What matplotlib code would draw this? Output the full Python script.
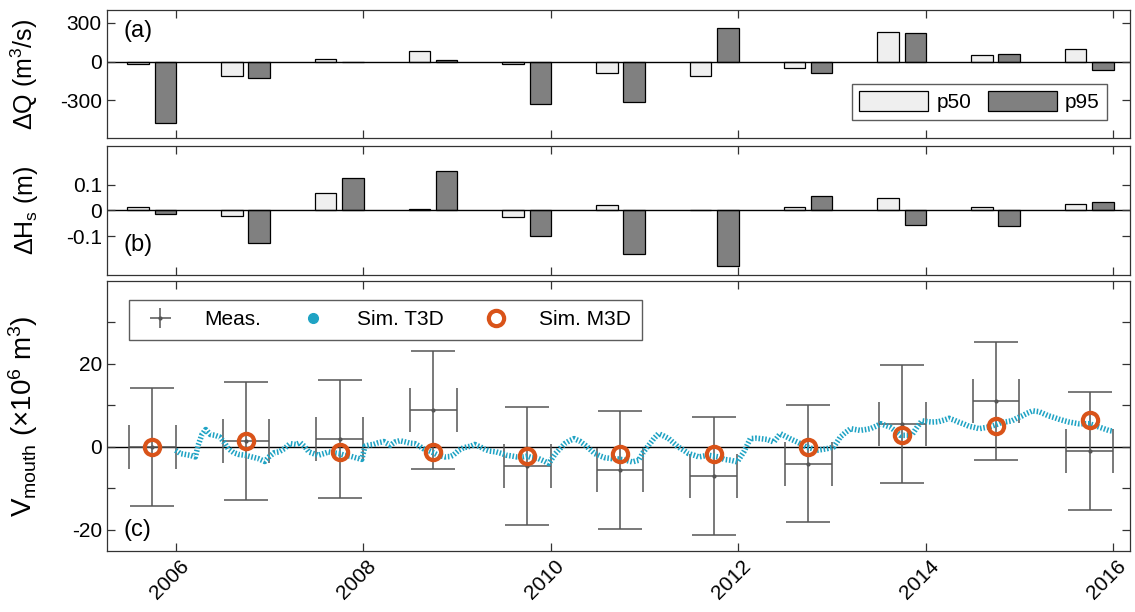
import matplotlib.pyplot as plt
import matplotlib.transforms as mtransforms
from matplotlib.lines import Line2D

plt.rcParams['font.family'] = ['Liberation Sans', 'DejaVu Sans']
plt.rcParams['mathtext.fontset'] = 'custom'
plt.rcParams['mathtext.rm'] = 'Liberation Sans'
plt.rcParams['mathtext.it'] = 'Liberation Sans:italic'
plt.rcParams['axes.unicode_minus'] = False

""" data read off the figure """

years = [2005, 2006, 2007, 2008, 2009, 2010, 2011, 2012, 2013, 2014, 2015]

dq_p50 = [-18, -111, 21, 80, -18, -93, -111, -47, 230, 52, 101]
dq_p95 = [-479, -132, -5, 10, -328, -313, 261, -91, 220, 62, -65]

dhs_p50 = [0.015, -0.022, 0.067, 0.006, -0.025, 0.019, 0.0, 0.013, 0.048, 0.015, 0.025]
dhs_p95 = [-0.015, -0.128, 0.125, 0.151, -0.099, -0.170, -0.214, 0.055, -0.057, -0.059, 0.032]

meas_t = [2005.75, 2006.75, 2007.75, 2008.75, 2009.75, 2010.74, 2011.74, 2012.75, 2013.75, 2014.75, 2015.75]
meas_v = [0.0, 1.5, 2.0, 9.0, -4.5, -5.5, -7.0, -4.0, 5.6, 11.1, -1.0]
meas_err = 14.2
meas_terr = 0.25
m3d_v = [0.0, 1.4, -1.2, -1.2, -2.1, -1.7, -1.6, 0.1, 2.8, 5.1, 6.6]

t3d_t = [2006.00, 2006.05, 2006.10, 2006.15, 2006.21, 2006.24, 2006.28, 2006.32, 2006.37, 2006.42,
         2006.47, 2006.52, 2006.56, 2006.62, 2006.67, 2006.74, 2006.81, 2006.88, 2006.95, 2007.00,
         2007.05, 2007.10, 2007.16, 2007.22, 2007.28, 2007.33, 2007.38, 2007.42, 2007.47, 2007.52,
         2007.58, 2007.63, 2007.68, 2007.74, 2007.80, 2007.86, 2007.92, 2007.985, 2008.02, 2008.07,
         2008.11, 2008.16, 2008.22, 2008.29, 2008.34, 2008.39, 2008.45, 2008.50, 2008.55, 2008.60,
         2008.64, 2008.69, 2008.73, 2008.80, 2008.87, 2008.93, 2008.96, 2009.02, 2009.07, 2009.11,
         2009.15, 2009.19, 2009.25, 2009.30, 2009.35, 2009.42, 2009.48, 2009.53, 2009.59, 2009.64,
         2009.70, 2009.75, 2009.80, 2009.87, 2009.93, 2009.98, 2010.05, 2010.10, 2010.15, 2010.20,
         2010.25, 2010.31, 2010.37, 2010.42, 2010.47, 2010.53, 2010.58, 2010.65, 2010.72, 2010.80,
         2010.87, 2010.94, 2010.99, 2011.06, 2011.10, 2011.15, 2011.21, 2011.26, 2011.31, 2011.36,
         2011.42, 2011.47, 2011.53, 2011.58, 2011.63, 2011.68, 2011.74, 2011.79, 2011.85, 2011.92,
         2011.99, 2012.06, 2012.13, 2012.19, 2012.24, 2012.31, 2012.38, 2012.45, 2012.52, 2012.57,
         2012.63, 2012.68, 2012.73, 2012.79, 2012.84, 2012.90, 2012.95, 2013.02, 2013.09, 2013.14,
         2013.20, 2013.25, 2013.30, 2013.36, 2013.41, 2013.47, 2013.52, 2013.57, 2013.62, 2013.68,
         2013.73, 2013.78, 2013.85, 2013.90, 2013.96, 2014.02, 2014.07, 2014.14, 2014.20, 2014.25,
         2014.30, 2014.35, 2014.41, 2014.46, 2014.52, 2014.57, 2014.62, 2014.67, 2014.73, 2014.78,
         2014.82, 2014.87, 2014.92, 2014.97, 2015.03, 2015.08, 2015.14, 2015.21, 2015.26, 2015.31,
         2015.37, 2015.42, 2015.48, 2015.53, 2015.58, 2015.63, 2015.68, 2015.74, 2015.80, 2015.85,
         2015.90, 2015.95, 2016.00]
t3d_v = [-0.8, -1.6, -1.8, -2.0, -2.4, 0.4, 3.0, 4.2, 3.0, 2.8,
         2.4, 1.0, -0.4, -1.4, -1.8, -2.0, -2.4, -2.8, -3.5, -2.3,
         -1.4, -1.2, -0.4, 0.8, 0.6, 1.0, 0.0, -1.2, -1.6, -2.0,
         -1.6, -1.2, -1.4, -1.6, -2.0, -2.2, -2.6, -3.0, 0.2, 0.5,
         0.6, 1.0, 1.3, 0.4, 1.2, 1.5, 1.2, 0.9, 0.8, 0.2,
         -0.4, -0.8, -1.2, -2.0, -2.4, -2.3, -2.0, -0.8, -0.2, 0.0,
         0.2, 0.6, 0.0, -0.6, -1.0, -1.2, -1.6, -2.0, -2.2, -2.4,
         -2.4, -2.2, -2.6, -2.8, -3.4, -4.0, -1.6, -0.4, 0.8, 1.5,
         2.0, 1.4, 0.4, -0.6, -1.6, -2.2, -2.6, -2.8, -2.9, -3.2,
         -3.6, -3.2, -1.2, 0.8, 2.0, 3.2, 2.6, 2.0, 1.0, 0.0,
         -0.8, -1.6, -2.0, -2.4, -2.2, -2.0, -2.2, -2.4, -3.0, -3.2,
         -3.6, -1.2, 2.0, 2.1, 2.0, 1.8, 1.2, 3.2, 2.4, 1.8,
         1.2, 0.6, 0.0, -0.4, -0.8, -0.6, -0.4, 0.0, 2.4, 3.4,
         4.4, 4.2, 4.0, 4.2, 4.4, 5.0, 5.6, 5.2, 4.8, 3.8,
         2.8, 2.8, 2.8, 4.5, 6.3, 6.1, 6.0, 6.1, 6.5, 6.9,
         6.5, 6.0, 5.5, 5.0, 4.7, 4.4, 4.6, 4.8, 5.2, 5.6,
         6.0, 6.1, 6.3, 6.9, 7.5, 8.1, 8.7, 8.5, 8.0, 7.5,
         7.1, 6.7, 6.3, 6.0, 5.8, 5.6, 5.6, 5.6, 5.2, 4.8,
         4.4, 4.0, 3.8]

light = '#efefef'
dark = '#808080'
cyan = '#1fa3c4'
orange = '#d95319'
egray = '#555555'

""" figure layout """

fig = plt.figure(figsize=(11.35, 6.12), dpi=100)
L, W = 0.094, 0.9016
ax1 = fig.add_axes([L, 0.7745, W, 0.209])
ax2 = fig.add_axes([L, 0.5507, W, 0.211])
ax3 = fig.add_axes([L, 0.1002, W, 0.4407])

x50 = [y + 0.60 for y in years]
x95 = [y + 0.89 for y in years]
bw = 0.23

""" (a) discharge """
ax1.bar(x50, dq_p50, width=bw, color=light, edgecolor='k', linewidth=0.9, label='p50')
ax1.bar(x95, dq_p95, width=bw, color=dark, edgecolor='k', linewidth=0.9, label='p95')
ax1.set_ylim(-595, 400)
ax1.set_yticks([-300, 0, 300])
ax1.set_ylabel(r'$\Delta$Q (m$^3$/s)', fontsize=18)
ax1.legend(ncol=2, loc='upper right', bbox_to_anchor=(0.9775, 0.422), fontsize=15,
           handlelength=3.3, handleheight=1.1, columnspacing=0.8, handletextpad=0.4,
           fancybox=False, edgecolor='#333333', borderpad=0.35, borderaxespad=0)

""" (b) wave height """
ax2.bar(x50, dhs_p50, width=bw, color=light, edgecolor='k', linewidth=0.9)
ax2.bar(x95, dhs_p95, width=bw, color=dark, edgecolor='k', linewidth=0.9)
ax2.set_ylim(-0.25, 0.25)
ax2.set_yticks([-0.1, 0, 0.1])
ax2.set_yticklabels(['-0.1', '0', '0.1'])
ax2.set_ylabel(r'$\Delta$H$_\mathrm{s}$ (m)', fontsize=18)

""" (c) mouth volume """
ax3.errorbar(meas_t, meas_v, yerr=meas_err, xerr=meas_terr, fmt='.', color=egray, ms=4,
             capsize=16, elinewidth=1.1, capthick=1.1, zorder=2)
ax3.plot(t3d_t, t3d_v, color=cyan, lw=4.0, linestyle=(0, (0.28, 0.32)),
         dash_capstyle='butt', zorder=3)
ax3.plot(meas_t, m3d_v, 'o', mfc='none', mec=orange, mew=3, ms=11, zorder=4)
ax3.set_ylim(-25, 40)
ax3.set_yticks([-20, -10, 0, 10, 20, 30])
ax3.set_yticklabels(['-20', '', '0', '', '20', ''])
ax3.set_ylabel(r'V$_\mathrm{mouth}$ ($\times$10$^6$ m$^3$)', fontsize=20)

h_meas = ax3.errorbar([], [], yerr=1, xerr=1, fmt='.', color=egray, ms=4, capsize=5,
                      elinewidth=1.1)
h_t3d = Line2D([], [], ls='none', marker='o', ms=7, color=cyan)
h_m3d = Line2D([], [], ls='none', marker='o', ms=11, mfc='none', mec=orange, mew=3)
ax3.legend([h_meas, h_t3d, h_m3d], ['Meas.', 'Sim. T3D', 'Sim. M3D'], ncol=3,
           loc='upper left', bbox_to_anchor=(0.0218, 0.93), fontsize=15,
           handlelength=2.0, columnspacing=1.5, handletextpad=1.1,
           fancybox=False, edgecolor='#333333', borderpad=0.5, borderaxespad=0)

for ax, lab, ly in [(ax1, '(a)', 0.84), (ax2, '(b)', 0.23), (ax3, '(c)', 0.077)]:
    ax.axhline(0, color='k', lw=1.0, zorder=1.5)
    ax.set_xlim(2005.264, 2016.18)
    ax.set_xticks([2006, 2008, 2010, 2012, 2014, 2016])
    ax.tick_params(direction='in', top=True, right=True, length=6, labelsize=15,
                   color='#333333', width=0.9)
    for s in ax.spines.values():
        s.set_color('#333333')
        s.set_linewidth(0.9)
    ax.yaxis.set_label_coords(-0.065, 0.5)
    ax.text(0.016, ly, lab, transform=ax.transAxes, fontsize=17, va='center', ha='left')

ax1.tick_params(labelbottom=False)
ax2.tick_params(labelbottom=False)

# rotated year labels, nudged right/down like the original
ax3.set_xticklabels(['2006', '2008', '2010', '2012', '2014', '2016'],
                    rotation=45, ha='right', va='center', rotation_mode='anchor')
shift = mtransforms.ScaledTranslation(10 / 100, -8 / 100, fig.dpi_scale_trans)
for lbl in ax3.get_xticklabels():
    lbl.set_transform(lbl.get_transform() + shift)

fig.savefig('out.png', dpi=100)
